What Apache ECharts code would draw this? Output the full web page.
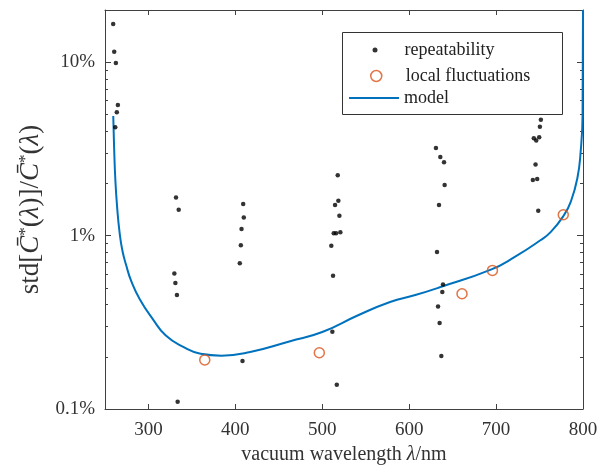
<!DOCTYPE html>
<html>
<head>
<meta charset="utf-8">
<script src="https://cdn.jsdelivr.net/npm/echarts@6/dist/echarts.min.js"></script>
<style>html,body{margin:0;padding:0;background:#fff}#c{width:612px;height:474px}</style>
</head>
<body>
<div id="c"></div>
<script>
// repeatability points: wavelength (nm), relative std (%)
const repLambda = [259.4,260.6,262.5,264.8,263.6,261.8,
  331.7,334.8,329.8,331.0,332.8,333.6,
  409.0,409.7,407.1,406.3,405.1,408.2,
  517.8,518.5,514.7,519.7,513.2,515.9,520.8,510.4,512.4,511.6,516.7,
  630.8,635.8,640.1,640.8,634.3,632.0,638.9,638.1,633.2,635.0,637.0,
  751.5,750.4,743.4,746.2,749.6,745.4,742.3,747.3,748.5];
const repValue = [16.6,11.5,9.9,5.67,5.14,4.21,
  1.66,1.41,0.605,0.533,0.454,0.110,
  1.52,1.27,1.09,0.879,0.692,0.189,
  2.23,1.59,1.50,1.30,1.03,1.03,1.045,0.875,0.587,0.279,0.138,
  3.20,2.84,2.65,1.96,1.50,0.804,0.523,0.473,0.390,0.313,0.202,
  4.66,4.25,3.64,3.53,3.69,2.57,2.09,2.12,1.39];
// local fluctuations
const locLambda = [364.8,496.6,660.8,695.8,777.3];
const locValue = [0.192,0.211,0.462,0.630,1.32];
// model curve
const modelLambda = [259.5,260.5,262,264,266.7,270,274.4,280,290,305,320,340,360,384,417,463,500,540,578,607,636,694,722,751,763,778,786,793.5,797.3,799.5,800];
const modelValue = [4.9,3.2,2.05,1.45,1.05,0.82,0.674,0.55,0.43,0.33,0.265,0.228,0.208,0.203,0.213,0.246,0.278,0.345,0.414,0.454,0.505,0.636,0.756,0.94,1.05,1.31,1.57,2.14,3.05,4.96,20];
// ticks
const xTicks = [300,400,500,600,700,800];
const xInnerTicks = [300,400,500,600,700];
const yMajor = [0.1,1,10];
const yMinor = [0.2,0.3,0.4,0.5,0.6,0.7,0.8,0.9,2,3,4,5,6,7,8,9];

const zip = (a,b)=>a.map((v,i)=>[v,b[i]]);
const FONT = 'Liberation Serif';
const AX = '#404040';

const chart = echarts.init(document.getElementById('c'), null, {renderer:'canvas'});
const yBase = (pos, ticks, len, line, labels) => ({
  type:'log', logBase:10, min:0.1, max:20, position:pos,
  axisLine:{show:line, lineStyle:{color:AX, width:1}},
  axisTick:{show:true, inside:true, length:len, customValues:ticks, lineStyle:{color:AX}},
  minorTick:{show:false},
  splitLine:{show:false},
  axisLabel:labels ? {show:true, customValues:yMajor, formatter:v=>v+'%', fontFamily:FONT, fontSize:19, color:'#333', margin:10} : {show:false}
});
const legText = {fontFamily:FONT, fontSize:18, color:'#222'};
const option = {
  animation:false,
  backgroundColor:'#fff',
  grid:{left:105, right:29, top:10, bottom:65, containLabel:false},
  xAxis:[
    {type:'value', min:250, max:800, position:'bottom',
     axisLine:{show:true, lineStyle:{color:AX}},
     axisTick:{show:true, inside:true, length:5, customValues:xTicks, lineStyle:{color:AX}},
     axisLabel:{customValues:xTicks, fontFamily:FONT, fontSize:19, color:'#333', margin:12},
     splitLine:{show:false},
     name:'vacuum wavelength {i|λ}/nm', nameLocation:'middle', nameGap:34,
     nameTextStyle:{fontFamily:FONT, fontSize:20, color:'#333', rich:{i:{fontFamily:FONT, fontStyle:'italic', fontSize:20, color:'#333'}}}
    },
    {type:'value', min:250, max:800, position:'top',
     axisLine:{show:true, lineStyle:{color:AX}},
     axisTick:{show:true, inside:true, length:5, customValues:xInnerTicks, lineStyle:{color:AX}},
     axisLabel:{show:false}, splitLine:{show:false}}
  ],
  yAxis:[
    Object.assign(yBase('left', yMajor, 6, true, true), {
      name:'std[{i|C̄}{s|*}({i|λ})]/{i|C̄}{s|*}({i|λ})', nameLocation:'middle', nameGap:59,
      nameTextStyle:{fontFamily:FONT, fontSize:27, color:'#333',
        rich:{i:{fontFamily:FONT, fontStyle:'italic', fontSize:27, color:'#333'}, s:{fontFamily:FONT, fontSize:17, color:'#333', padding:[0,0,11,0]}}}
    }),
    yBase('left', yMinor, 3, false, false),
    yBase('right', yMajor, 6, true, false),
    yBase('right', yMinor, 3, false, false)
  ],
  legend:[
    {data:[{name:'repeatability', icon:'circle', itemStyle:{color:'#000'}}], left:372.5, top:41, orient:'vertical', padding:0,
     itemWidth:5, itemHeight:5, itemGap:0, textStyle:Object.assign({padding:[0,0,0,22]}, legText)},
    {data:[{name:'local fluctuations', icon:'circle', itemStyle:{color:'rgba(0,0,0,0)', borderColor:'#D95319', borderWidth:1.5}}],
     itemStyle:{color:'rgba(0,0,0,0)', borderColor:'#D95319', borderWidth:1.5},
     left:370, top:67, orient:'vertical', padding:0,
     itemWidth:11, itemHeight:11, itemGap:0, textStyle:Object.assign({padding:[0,0,0,19]}, legText)},
    {data:[{name:'model', icon:'path://M0,0H50V2H0Z'}], left:349, top:89, orient:'vertical', padding:0,
     itemWidth:50, itemHeight:14, itemGap:0, textStyle:legText,
     lineStyle:{color:'#0072BD', width:2.5}}
  ],
  graphic:[{type:'rect', left:342, top:32, shape:{width:220, height:82}, style:{fill:'#fff', stroke:'#333', lineWidth:1}, z:-1, silent:true}],
  series:[
    {name:'model', type:'line', data:zip(modelLambda, modelValue), showSymbol:false, symbol:'none',
     smooth:0.5, lineStyle:{color:'#0072BD', width:2}, itemStyle:{color:'#0072BD'}, z:2},
    {name:'repeatability', type:'scatter', data:zip(repLambda, repValue), symbol:'circle', symbolSize:4.5,
     itemStyle:{color:'#000'}, z:3},
    {name:'local fluctuations', type:'scatter', data:zip(locLambda, locValue), symbol:'circle', symbolSize:10,
     itemStyle:{color:'rgba(0,0,0,0)', borderColor:'#D95319', borderWidth:1.5}, z:4}
  ]
};
chart.setOption(option);
</script>
</body>
</html>
